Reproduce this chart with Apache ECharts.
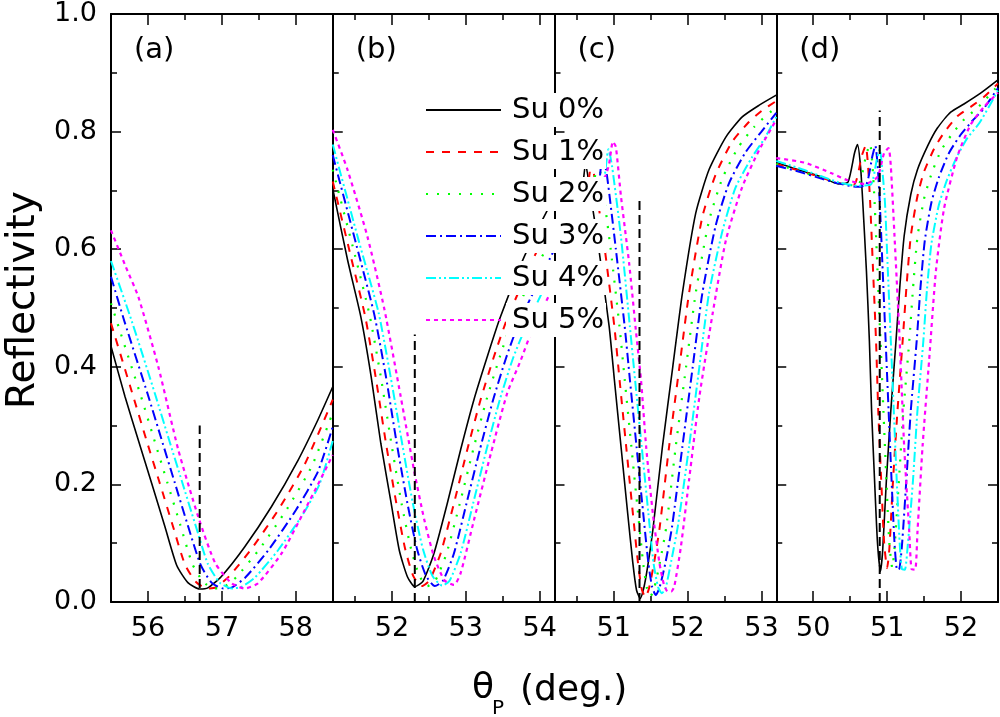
<!DOCTYPE html>
<html><head><meta charset="utf-8">
<script src="https://cdn.jsdelivr.net/npm/echarts@6/dist/echarts.min.js"></script>
<style>html,body{margin:0;padding:0;background:#fff}#c{width:1000px;height:717px}</style>
</head><body><div id="c"></div>
<script>
// ---------- data ----------
const seriesNames = ['Su 0%','Su 1%','Su 2%','Su 3%','Su 4%','Su 5%'];
const panelLabels = ['(a)','(b)','(c)','(d)'];
const xRanges = [[55.5,58.5],[51.2,54.2],[50.2,53.2],[49.5,52.5]];
const majorTicks = [[56,57,58],[52,53,54],[51,52,53],[50,51,52]];
const minorTicks = [[56.5,57.5],[51.5,52.5,53.5],[50.5,51.5,52.5],[50.5,51.5]];
const yRange = [0,1];
// vertical dashed markers: [x, yFrom, yTo]
const markers = [[56.70,0,0.30],[52.31,0,0.455],[51.35,0,0.684],[50.90,0,0.836]];

// panel (a)
const a0 = [[55.50,0.435],[55.69,0.349],[55.87,0.275],[56.05,0.202],[56.23,0.128],[56.39,0.062],[56.54,0.033],[56.70,0.022],[56.81,0.024],[56.99,0.043],[57.31,0.094],[57.67,0.162],[58.03,0.241],[58.30,0.310],[58.50,0.366]];
const a1 = [[55.50,0.474],[55.80,0.350],[55.98,0.275],[56.16,0.202],[56.34,0.128],[56.50,0.064],[56.65,0.034],[56.80,0.023],[56.92,0.025],[57.10,0.044],[57.41,0.092],[57.77,0.158],[58.12,0.234],[58.50,0.344]];
const a2 = [[55.50,0.508],[55.90,0.352],[56.08,0.278],[56.26,0.204],[56.44,0.130],[56.60,0.065],[56.75,0.034],[56.90,0.023],[57.02,0.025],[57.20,0.043],[57.52,0.092],[57.88,0.158],[58.22,0.232],[58.50,0.322]];
const a3 = [[55.50,0.553],[55.68,0.478],[56.00,0.352],[56.18,0.278],[56.36,0.204],[56.54,0.130],[56.71,0.064],[56.86,0.033],[57.02,0.023],[57.14,0.025],[57.32,0.042],[57.64,0.090],[58.00,0.156],[58.30,0.222],[58.50,0.298]];
const a4 = [[55.50,0.580],[55.78,0.478],[56.10,0.352],[56.28,0.278],[56.46,0.205],[56.64,0.132],[56.81,0.065],[56.97,0.033],[57.14,0.023],[57.27,0.026],[57.45,0.042],[57.76,0.088],[58.10,0.150],[58.32,0.200],[58.50,0.274]];
const a5 = [[55.50,0.632],[55.70,0.570],[55.87,0.519],[56.14,0.400],[56.41,0.259],[56.68,0.145],[56.91,0.066],[57.13,0.032],[57.31,0.023],[57.49,0.032],[57.81,0.083],[58.12,0.156],[58.30,0.200],[58.50,0.250]];

// panel (b)
const b0 = [[51.20,0.703],[51.40,0.582],[51.58,0.485],[51.72,0.383],[51.85,0.270],[51.99,0.168],[52.10,0.088],[52.21,0.043],[52.31,0.026],[52.42,0.035],[52.57,0.083],[52.75,0.168],[52.93,0.259],[53.11,0.344],[53.29,0.417],[53.46,0.482],[53.80,0.590],[54.20,0.690]];
const b1 = [[51.20,0.715],[51.45,0.585],[51.64,0.485],[51.78,0.383],[51.92,0.270],[52.06,0.168],[52.18,0.090],[52.29,0.044],[52.40,0.027],[52.51,0.037],[52.66,0.083],[52.84,0.168],[53.02,0.259],[53.20,0.344],[53.38,0.417],[53.56,0.482],[53.90,0.580],[54.20,0.660]];
const b2 = [[51.20,0.735],[51.50,0.590],[51.70,0.487],[51.85,0.383],[51.99,0.272],[52.13,0.168],[52.26,0.090],[52.37,0.045],[52.48,0.027],[52.59,0.037],[52.74,0.083],[52.92,0.168],[53.10,0.259],[53.28,0.344],[53.46,0.417],[53.64,0.482],[54.00,0.580],[54.20,0.625]];
const b3 = [[51.20,0.760],[51.52,0.607],[51.76,0.490],[51.92,0.383],[52.06,0.274],[52.21,0.168],[52.34,0.090],[52.46,0.045],[52.58,0.027],[52.69,0.036],[52.84,0.083],[53.01,0.168],[53.19,0.259],[53.37,0.344],[53.55,0.417],[53.73,0.478],[54.20,0.600]];
const b4 = [[51.20,0.778],[51.55,0.615],[51.82,0.492],[51.98,0.385],[52.13,0.276],[52.28,0.170],[52.42,0.090],[52.55,0.044],[52.68,0.028],[52.78,0.036],[52.93,0.083],[53.10,0.168],[53.28,0.259],[53.46,0.344],[53.64,0.415],[53.82,0.470],[54.20,0.570]];
const b5 = [[51.20,0.803],[51.40,0.735],[51.67,0.621],[51.90,0.497],[52.12,0.349],[52.30,0.224],[52.44,0.139],[52.57,0.077],[52.71,0.037],[52.84,0.029],[52.93,0.049],[53.11,0.139],[53.34,0.253],[53.56,0.355],[53.74,0.410],[53.90,0.463],[54.20,0.540]];

// panel (c)
const c0 = [[50.20,0.700],[50.40,0.690],[50.55,0.690],[50.62,0.745],[50.68,0.700],[50.80,0.600],[50.94,0.468],[51.01,0.378],[51.10,0.264],[51.19,0.151],[51.26,0.066],[51.31,0.020],[51.36,0.006],[51.41,0.025],[51.46,0.060],[51.53,0.122],[51.66,0.264],[51.80,0.400],[51.93,0.525],[52.11,0.661],[52.29,0.735],[52.52,0.791],[52.74,0.825],[52.97,0.845],[53.20,0.862]];
const c1 = [[50.20,0.705],[50.45,0.695],[50.62,0.692],[50.70,0.750],[50.76,0.705],[50.88,0.600],[51.01,0.468],[51.08,0.378],[51.17,0.264],[51.26,0.151],[51.33,0.066],[51.38,0.022],[51.43,0.008],[51.48,0.024],[51.54,0.062],[51.62,0.124],[51.75,0.264],[51.89,0.400],[52.02,0.525],[52.20,0.655],[52.38,0.727],[52.60,0.782],[52.82,0.815],[53.00,0.835],[53.20,0.852]];
const c2 = [[50.20,0.710],[50.50,0.698],[50.70,0.695],[50.78,0.755],[50.84,0.715],[50.96,0.600],[51.08,0.468],[51.15,0.378],[51.24,0.264],[51.33,0.151],[51.40,0.066],[51.45,0.024],[51.50,0.010],[51.55,0.024],[51.62,0.064],[51.71,0.126],[51.84,0.264],[51.98,0.400],[52.11,0.525],[52.29,0.648],[52.47,0.720],[52.68,0.772],[52.90,0.808],[53.20,0.842]];
const c3 = [[50.20,0.713],[50.55,0.700],[50.77,0.698],[50.85,0.760],[50.91,0.725],[51.03,0.600],[51.15,0.468],[51.22,0.378],[51.31,0.264],[51.40,0.151],[51.47,0.066],[51.52,0.026],[51.57,0.012],[51.62,0.024],[51.70,0.066],[51.79,0.128],[51.93,0.264],[52.07,0.400],[52.20,0.525],[52.38,0.640],[52.56,0.712],[52.78,0.764],[53.00,0.800],[53.20,0.832]];
const c4 = [[50.20,0.716],[50.55,0.705],[50.83,0.702],[50.93,0.770],[50.98,0.740],[51.10,0.620],[51.22,0.468],[51.29,0.378],[51.38,0.264],[51.47,0.151],[51.54,0.066],[51.60,0.026],[51.65,0.015],[51.70,0.022],[51.78,0.070],[51.87,0.130],[52.02,0.264],[52.16,0.400],[52.29,0.525],[52.47,0.630],[52.65,0.705],[52.87,0.756],[53.05,0.790],[53.20,0.825]];
const c5 = [[50.20,0.720],[50.50,0.710],[50.80,0.705],[50.93,0.740],[50.99,0.783],[51.03,0.774],[51.10,0.689],[51.21,0.576],[51.30,0.463],[51.37,0.378],[51.44,0.264],[51.53,0.151],[51.62,0.066],[51.68,0.030],[51.73,0.018],[51.78,0.018],[51.82,0.026],[51.91,0.094],[52.02,0.207],[52.16,0.349],[52.34,0.491],[52.52,0.616],[52.74,0.706],[52.97,0.769],[53.20,0.820]];

// panel (d)
const d0 = [[49.50,0.748],[49.80,0.735],[50.11,0.723],[50.34,0.711],[50.47,0.714],[50.56,0.764],[50.60,0.778],[50.64,0.741],[50.67,0.681],[50.72,0.563],[50.76,0.444],[50.79,0.325],[50.83,0.207],[50.87,0.100],[50.91,0.052],[50.94,0.088],[50.99,0.207],[51.05,0.325],[51.12,0.444],[51.17,0.533],[51.23,0.622],[51.32,0.693],[51.41,0.735],[51.55,0.776],[51.68,0.806],[51.86,0.833],[52.04,0.847],[52.26,0.865],[52.50,0.888]];
const d1 = [[49.50,0.745],[49.80,0.734],[50.11,0.722],[50.34,0.712],[50.55,0.710],[50.66,0.760],[50.71,0.776],[50.74,0.745],[50.77,0.681],[50.81,0.563],[50.85,0.444],[50.88,0.325],[50.92,0.207],[50.96,0.100],[51.00,0.058],[51.03,0.090],[51.08,0.207],[51.14,0.325],[51.21,0.444],[51.26,0.533],[51.32,0.622],[51.41,0.690],[51.50,0.732],[51.64,0.772],[51.78,0.800],[51.95,0.826],[52.13,0.842],[52.32,0.860],[52.50,0.882]];
const d2 = [[49.50,0.745],[49.80,0.733],[50.11,0.722],[50.34,0.712],[50.60,0.708],[50.72,0.762],[50.77,0.779],[50.80,0.745],[50.83,0.681],[50.87,0.563],[50.91,0.444],[50.95,0.325],[50.99,0.207],[51.03,0.100],[51.07,0.058],[51.10,0.092],[51.16,0.207],[51.22,0.325],[51.30,0.444],[51.35,0.533],[51.41,0.620],[51.50,0.686],[51.60,0.728],[51.73,0.768],[51.88,0.796],[52.05,0.822],[52.22,0.840],[52.50,0.878]];
const d3 = [[49.50,0.742],[49.80,0.732],[50.11,0.720],[50.34,0.712],[50.60,0.706],[50.72,0.710],[50.80,0.758],[50.84,0.776],[50.87,0.745],[50.90,0.681],[50.94,0.563],[50.98,0.444],[51.02,0.325],[51.06,0.207],[51.10,0.100],[51.13,0.056],[51.16,0.055],[51.20,0.095],[51.26,0.207],[51.32,0.325],[51.40,0.444],[51.45,0.533],[51.51,0.615],[51.60,0.680],[51.70,0.722],[51.83,0.762],[51.98,0.792],[52.15,0.818],[52.30,0.838],[52.50,0.874]];
const d4 = [[49.50,0.750],[49.80,0.738],[50.11,0.724],[50.34,0.714],[50.60,0.708],[50.78,0.710],[50.86,0.752],[50.90,0.770],[50.93,0.742],[50.97,0.681],[51.01,0.563],[51.05,0.444],[51.09,0.325],[51.13,0.207],[51.17,0.100],[51.20,0.056],[51.24,0.055],[51.28,0.098],[51.35,0.207],[51.41,0.325],[51.49,0.444],[51.54,0.533],[51.60,0.610],[51.70,0.675],[51.81,0.718],[51.94,0.756],[52.08,0.788],[52.25,0.815],[52.50,0.870]];
const d5 = [[49.50,0.755],[49.89,0.747],[50.25,0.729],[50.47,0.717],[50.70,0.711],[50.87,0.723],[50.96,0.764],[51.02,0.772],[51.05,0.741],[51.10,0.622],[51.17,0.444],[51.23,0.266],[51.30,0.118],[51.33,0.056],[51.38,0.055],[51.41,0.118],[51.48,0.266],[51.57,0.414],[51.66,0.563],[51.77,0.669],[51.95,0.758],[52.13,0.812],[52.31,0.842],[52.50,0.866]];

const panels = [[a0,a1,a2,a3,a4,a5],[b0,b1,b2,b3,b4,b5],[c0,c1,c2,c3,c4,c5],[d0,d1,d2,d3,d4,d5]];

// ---------- styling / layout ----------
const FONT = 'DejaVu Sans';
const lineStyles = [
  {color:'#000000', width:1.6, type:'solid'},
  {color:'#ff0000', width:2, type:[8,8]},
  {color:'#00ff00', width:2.2, type:[2,9]},
  {color:'#0000ff', width:2, type:[10,4,2,4]},
  {color:'#00ffff', width:2, type:[10,3,2,3,2,3]},
  {color:'#ff00ff', width:2.2, type:[4,4]}
];
const plotLeft = 111, plotRight = 998, plotTop = 14, plotBottom = 602;
const pw = (plotRight - plotLeft) / 4;

const grids = [], xAxes = [], yAxes = [], series = [], graphics = [];
const axLine = {show:true, lineStyle:{color:'#000', width:2}};
for (let p = 0; p < 4; p++) {
  const left = plotLeft + p * pw;
  grids.push({left: left, top: plotTop, width: pw, height: plotBottom - plotTop, containLabel:false});
  const base = {type:'value', gridIndex:p, min:xRanges[p][0], max:xRanges[p][1], splitLine:{show:false}};
  xAxes.push(Object.assign({}, base, {position:'bottom', axisLine:axLine,
    axisTick:{show:true, inside:true, length:11, customValues:majorTicks[p], lineStyle:{color:'#000', width:1.5}},
    axisLabel:{show:true, customValues:majorTicks[p], margin:13, fontSize:27, fontFamily:FONT, color:'#000'}}));
  xAxes.push(Object.assign({}, base, {position:'bottom', axisLine:{show:false},
    axisTick:{show:true, inside:true, length:6, customValues:minorTicks[p], lineStyle:{color:'#000', width:1.5}},
    axisLabel:{show:false}}));
  xAxes.push(Object.assign({}, base, {position:'top', axisLine:axLine,
    axisTick:{show:true, inside:true, length:11, customValues:majorTicks[p], lineStyle:{color:'#000', width:1.5}},
    axisLabel:{show:false}}));
  xAxes.push(Object.assign({}, base, {position:'top', axisLine:{show:false},
    axisTick:{show:true, inside:true, length:6, customValues:minorTicks[p], lineStyle:{color:'#000', width:1.5}},
    axisLabel:{show:false}}));

  yAxes.push({type:'value', gridIndex:p, position:'left', min:yRange[0], max:yRange[1], interval:0.2,
    splitLine:{show:false}, axisLine:axLine,
    axisTick:{show:true, inside:true, length:10, lineStyle:{color:'#000', width:1.5}},
    minorTick:{show:true, splitNumber:2, length:6, lineStyle:{color:'#000', width:1.5}},
    axisLabel:{show:p===0, margin:14, fontSize:27, fontFamily:FONT, color:'#000', formatter: v => v.toFixed(1)}});

  for (let s = 0; s < 6; s++) {
    series.push({type:'line', name:seriesNames[s], xAxisIndex:4*p, yAxisIndex:p, data:panels[p][s],
      symbol:'none', showSymbol:false, smooth:0.2, silent:true, animation:false,
      lineStyle:lineStyles[s], itemStyle:{color:lineStyles[s].color}, z:2});
  }
  const m = markers[p];
  series.push({type:'line', xAxisIndex:4*p, yAxisIndex:p, data:[[m[0],m[1]],[m[0],m[2]]],
    symbol:'none', silent:true, animation:false, lineStyle:{color:'#000', width:2, type:[9,5]}, z:3});

  graphics.push({type:'text', left: left + 23, top: 36, silent:true,
    style:{text:panelLabels[p], fontSize:29, fontFamily:FONT, fill:'#000'}});
}
yAxes.push({type:'value', gridIndex:3, position:'right', min:yRange[0], max:yRange[1], interval:0.2,
  splitLine:{show:false}, axisLine:axLine,
  axisTick:{show:true, inside:true, length:10, lineStyle:{color:'#000', width:1.5}},
  minorTick:{show:true, splitNumber:2, length:6, lineStyle:{color:'#000', width:1.5}},
  axisLabel:{show:false}});

graphics.push({type:'text', x:24, y:300, rotation:Math.PI/2, silent:true,
  style:{text:'Reflectivity', fontSize:39, fontFamily:FONT, fill:'#000', align:'center', verticalAlign:'middle'}});
graphics.push({type:'text', x:472, y:689, silent:true,
  style:{text:'θ', fontSize:36, fontFamily:FONT, fill:'#000', align:'left', verticalAlign:'middle'}});
graphics.push({type:'text', x:492, y:709, silent:true,
  style:{text:'P', fontSize:20, fontFamily:FONT, fill:'#000', align:'left', verticalAlign:'middle'}});
graphics.push({type:'text', x:520, y:691, silent:true,
  style:{text:'(deg.)', fontSize:36, fontFamily:FONT, fill:'#000', align:'left', verticalAlign:'middle'}});

const chart = echarts.init(document.getElementById('c'), null, {renderer:'canvas'});
chart.setOption({
  animation:false,
  backgroundColor:'#fff',
  grid: grids,
  xAxis: xAxes,
  yAxis: yAxes,
  legend: {data: seriesNames, orient:'vertical', left:425, top:93, itemWidth:75, itemHeight:14, itemGap:8,
    padding:0, selectedMode:false, z:10,
    itemStyle:{opacity:0, borderWidth:0},
    textStyle:{fontSize:29, fontFamily:FONT, color:'#000', backgroundColor:'#fff', padding:[0,2,0,6], lineHeight:34}},
  graphic: graphics,
  series: series
});
</script></body></html>
